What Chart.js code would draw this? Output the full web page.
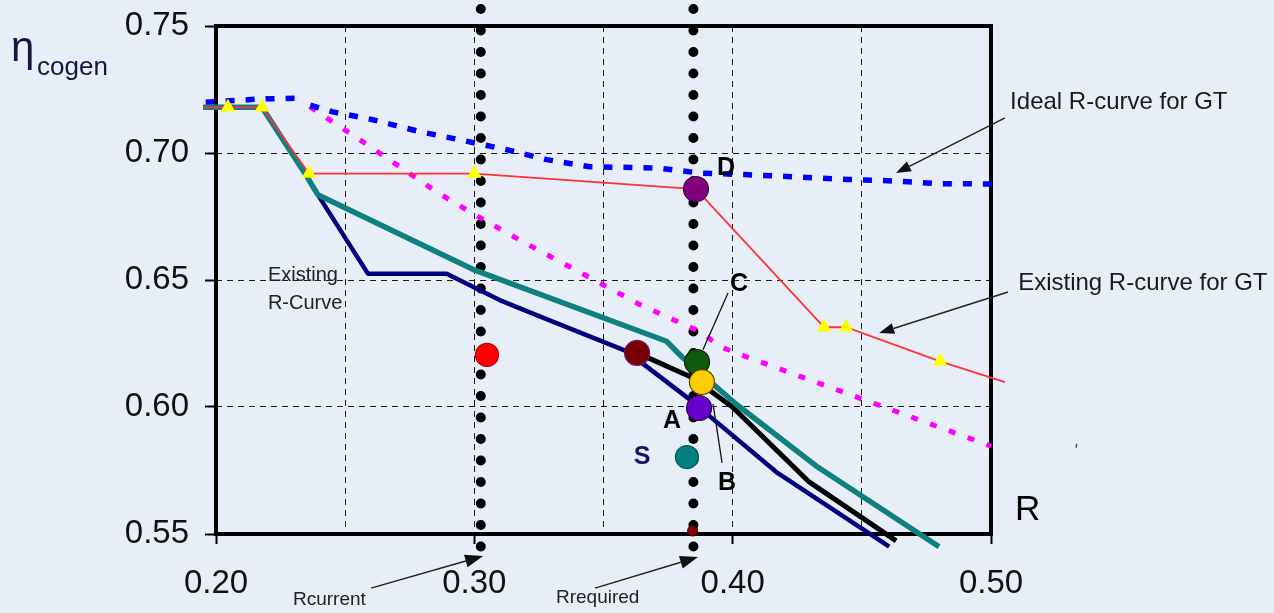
<!DOCTYPE html>
<html><head><meta charset="utf-8">
<script src="https://cdn.jsdelivr.net/npm/chart.js@4.4.1/dist/chart.umd.min.js"></script>
<style>html,body{margin:0;padding:0;background:#E8EEF8;}canvas{display:block}</style>
</head><body>
<canvas id="c" width="1274" height="613"></canvas>
<script>
// ---------- DATA ----------
const xTickValues = [0.20, 0.30, 0.40, 0.50];
const yTickValues = [0.55, 0.60, 0.65, 0.70, 0.75];

// Ideal R-curve for GT (blue dashed)
const idealX = [0.196, 0.218, 0.2315, 0.234, 0.2365, 0.2452, 0.2607, 0.2789, 0.2943, 0.3125, 0.328, 0.3446, 0.3707, 0.3874, 0.4048, 0.4450, 0.4620, 0.4800, 0.5040];
const idealY = [0.7200, 0.7213, 0.7216, null, 0.7188, 0.7162, 0.7131, 0.7084, 0.7052, 0.7013, 0.6974, 0.6946, 0.6941, 0.6921, 0.6915, 0.6896, 0.6890, 0.6879, 0.6878];

// magenta dotted curve
const magX = [0.2363, 0.2588, 0.2855, 0.3003, 0.3196, 0.3428, 0.3639, 0.3879, 0.3948, 0.4026, 0.5000, 0.5025];
const magY = [0.7182, 0.7031, 0.6846, 0.6756, 0.6646, 0.6520, 0.6404, 0.6294, 0.6239, 0.6208, 0.5846, 0.5838];

// Existing R-curve for GT (red, yellow triangles)
const existX = [0.195, 0.2046, 0.2178, 0.2360, 0.3000, 0.3858, 0.4354, 0.4439, 0.4803, 0.5054];
const existY = [0.7180, 0.7180, 0.7180, 0.6919, 0.6919, 0.6858, 0.6314, 0.6314, 0.6180, 0.6098];
const triX = [0.2046, 0.2178, 0.2360, 0.3000, 0.4354, 0.4439, 0.4803];
const triY = [0.7180, 0.7180, 0.6919, 0.6919, 0.6314, 0.6314, 0.6180];

// teal curve
const tealX = [0.195, 0.2178, 0.2352, 0.2394, 0.2994, 0.3744, 0.3805, 0.4014, 0.4323, 0.4799];
const tealY = [0.7180, 0.7180, 0.6907, 0.6836, 0.6542, 0.6259, 0.6196, 0.6011, 0.5768, 0.5450];

// navy "Existing R-Curve"
const navyX = [0.195, 0.2178, 0.2352, 0.2394, 0.2588, 0.2893, 0.3098, 0.3253, 0.3589, 0.3832, 0.4169, 0.4606];
const navyY = [0.7180, 0.7180, 0.6907, 0.6836, 0.6525, 0.6525, 0.6421, 0.6357, 0.6220, 0.6031, 0.5744, 0.5450];

// black curve
const blackX = [0.3630, 0.3832, 0.3921, 0.3999, 0.4296, 0.4633];
const blackY = [0.6213, 0.6121, 0.6058, 0.6000, 0.5705, 0.5473];

// operating points (circles)
const ptNames  = ['red', 'maroon', 'C', 'yellow', 'A', 'S', 'D', 'small'];
const ptX      = [0.3049, 0.3630, 0.3862, 0.3881, 0.3870, 0.3823, 0.3858, 0.3845];
const ptY      = [0.6205, 0.6213, 0.6177, 0.6098, 0.5996, 0.5803, 0.6858, 0.5512];
const ptFill   = ['#FF0000', '#7A0000', '#0E5A0E', '#FFCC00', '#6A00CC', '#008080', '#800080', '#8B0000'];
const ptBorder = ['#B00000', '#6A1A70', '#0A2A0A', '#5A4A00', '#2A0050', '#005555', '#4A004A', '#5A0000'];

// R lines (dotted verticals)
const rCurrent = 0.3025;
const rRequired = 0.3848;
const rLineY = [0.7567, 0.5406];

// point labels
const lblText = ['D', 'C', 'A', 'B', 'S'];
const lblX = [0.3974, 0.4025, 0.3765, 0.3978, 0.3649];
const lblY = [0.6941, 0.6484, 0.5945, 0.5701, 0.5803];
const lblColor = ['#000', '#000', '#000', '#000', '#141466'];

// ---------- helpers ----------
const pts = (xs, ys) => xs.map((x, i) => ({x: x, y: ys[i]}));
const BG = '#E8EEF8';
const FONT = "'Liberation Sans', Arial, Helvetica, sans-serif";
Chart.defaults.font.family = FONT;

function arrow(ctx, x1, y1, x2, y2, len, wid) {
  const a = Math.atan2(y2 - y1, x2 - x1);
  const bx = x2 - Math.cos(a) * len, by = y2 - Math.sin(a) * len;
  ctx.beginPath(); ctx.moveTo(x1, y1); ctx.lineTo(bx, by); ctx.stroke();
  ctx.beginPath();
  ctx.moveTo(x2, y2);
  ctx.lineTo(bx + Math.sin(a) * wid / 2, by - Math.cos(a) * wid / 2);
  ctx.lineTo(bx - Math.sin(a) * wid / 2, by + Math.cos(a) * wid / 2);
  ctx.closePath(); ctx.fill();
}

const deco = {
  id: 'deco',
  beforeDraw(chart) {
    const ctx = chart.ctx;
    ctx.save(); ctx.fillStyle = BG; ctx.fillRect(0, 0, chart.width, chart.height); ctx.restore();
  },
  beforeDatasetsDraw(chart) {
    const {ctx, chartArea: a} = chart;
    ctx.save();
    ctx.strokeStyle = '#000'; ctx.lineWidth = 4; ctx.setLineDash([]);
    ctx.strokeRect(a.left, a.top, a.right - a.left, a.bottom - a.top);
    ctx.restore();
  },
  afterDraw(chart) {
    const ctx = chart.ctx, sx = chart.scales.x, sy = chart.scales.y;
    const X = v => sx.getPixelForValue(v), Y = v => sy.getPixelForValue(v);
    ctx.save();
    // y-axis title
    ctx.fillStyle = '#16163E'; ctx.textBaseline = 'alphabetic'; ctx.textAlign = 'left';
    ctx.font = '42px ' + FONT; ctx.fillText('\u03B7', 11, 61);
    ctx.font = '26px ' + FONT; ctx.fillText('cogen', 37, 75);
    // point labels
    ctx.font = 'bold 25px ' + FONT; ctx.textAlign = 'center'; ctx.textBaseline = 'middle';
    lblText.forEach((t, i) => { ctx.fillStyle = lblColor[i]; ctx.fillText(t, X(lblX[i]), Y(lblY[i])); });
    // leader lines C and B
    ctx.strokeStyle = '#111'; ctx.lineWidth = 1.3;
    ctx.beginPath(); ctx.moveTo(X(0.3982), Y(0.6449)); ctx.lineTo(X(0.3885), Y(0.6225)); ctx.stroke();
    ctx.beginPath(); ctx.moveTo(X(0.3924), Y(0.6012)); ctx.lineTo(X(0.3959), Y(0.5780)); ctx.stroke();
    // annotations text
    ctx.fillStyle = '#1A1A1A'; ctx.textAlign = 'left'; ctx.textBaseline = 'middle';
    ctx.font = '24px ' + FONT;
    ctx.fillText('Ideal R-curve for GT', X(0.5074), Y(0.7201));
    ctx.fillText('Existing R-curve for GT', X(0.5105), Y(0.6488));
    ctx.font = '20px ' + FONT; ctx.fillStyle = '#222';
    ctx.fillText('Existing', X(0.2201), Y(0.6516));
    ctx.fillText('R-Curve', X(0.2201), Y(0.6406));
    ctx.font = '19px ' + FONT;
    ctx.fillText('Rcurrent', X(0.2298), Y(0.5240));
    ctx.fillText('Rrequired', X(0.3316), Y(0.5248));
    ctx.font = '35px ' + FONT; ctx.fillStyle = '#000';
    ctx.fillText('R', X(0.5093), Y(0.5594));
    // arrows
    ctx.strokeStyle = '#222'; ctx.fillStyle = '#111'; ctx.lineWidth = 1.5;
    arrow(ctx, X(0.5054), Y(0.7138), X(0.4632), Y(0.6921), 15, 11);
    arrow(ctx, X(0.5066), Y(0.6453), X(0.4567), Y(0.6291), 15, 11);
    arrow(ctx, X(0.2600), Y(0.5287), X(0.3034), Y(0.5413), 18, 13);
    arrow(ctx, X(0.3467), Y(0.5287), X(0.3866), Y(0.5409), 18, 13);
    // tiny stray mark
    ctx.lineWidth = 1.5; ctx.strokeStyle = '#444';
    ctx.beginPath(); ctx.moveTo(X(0.5332), Y(0.5855)); ctx.lineTo(X(0.5329), Y(0.5840)); ctx.stroke();
    ctx.restore();
  }
};

const lineDefaults = {showLine: true, pointRadius: 0, clip: false, fill: false, tension: 0};

new Chart(document.getElementById('c'), {
  type: 'scatter',
  data: {
    datasets: [
      {label: 'points', data: pts(ptX, ptY), showLine: false, clip: false, order: 0,
       pointRadius: ptNames.map(n => n === 'small' ? 5 : (n === 'red' || n === 'S' ? 11.5 : 12.5)),
       pointBackgroundColor: ptFill, pointBorderColor: ptBorder, pointBorderWidth: 1.2},
      {label: 'triangles', data: pts(triX, triY), showLine: false, clip: false, order: 1,
       pointStyle: 'triangle', pointRadius: 8.5, pointBackgroundColor: '#FFFF00', pointBorderWidth: 0},
      Object.assign({label: 'Existing R-curve for GT', data: pts(existX, existY), borderColor: '#FF3333', borderWidth: 1.8, order: 2}, lineDefaults),
      Object.assign({label: 'teal', data: pts(tealX, tealY), borderColor: '#0E8080', borderWidth: 5.5, borderJoinStyle: 'round', order: 3}, lineDefaults),
      Object.assign({label: 'black', data: pts(blackX, blackY), borderColor: '#000000', borderWidth: 5, borderJoinStyle: 'round', order: 3}, lineDefaults),
      Object.assign({label: 'Existing R-Curve', data: pts(navyX, navyY), borderColor: '#00007F', borderWidth: 4.5, borderJoinStyle: 'round', order: 4}, lineDefaults),
      Object.assign({label: 'Ideal R-curve for GT', data: pts(idealX, idealY), borderColor: '#0000FF', borderWidth: 5.5, borderDash: [9, 11], spanGaps: false, order: 4}, lineDefaults),
      Object.assign({label: 'magenta', data: pts(magX, magY), borderColor: '#FF00FF', borderWidth: 5, borderDash: [7, 13], order: 4}, lineDefaults),
      Object.assign({label: 'Rcurrent', data: pts([rCurrent, rCurrent], rLineY), borderColor: '#000', borderWidth: 10, borderDash: [0, 21.5], borderCapStyle: 'round', order: 6}, lineDefaults),
      Object.assign({label: 'Rrequired', data: pts([rRequired, rRequired], rLineY), borderColor: '#000', borderWidth: 10, borderDash: [0, 21.5], borderCapStyle: 'round', order: 6}, lineDefaults)
    ]
  },
  options: {
    responsive: false, animation: false,
    layout: {padding: {top: 26, right: 283, left: 0, bottom: 0}},
    plugins: {legend: {display: false}, tooltip: {enabled: false}},
    scales: {
      x: {
        type: 'linear', min: 0.2, max: 0.5,
        afterFit(s) { s.height = 79; s.paddingLeft = 0; s.paddingRight = 0; s.paddingTop = 0; s.paddingBottom = 0; },
        ticks: {stepSize: 0.05, autoSkip: false, maxRotation: 0, minRotation: 0, padding: 20, color: '#111', font: {size: 33},
          callback(v) { const r = Math.round(v * 100) / 100; return xTickValues.some(t => Math.abs(t - r) < 1e-6) ? r.toFixed(2) : ''; }},
        grid: {
          color: c => (c.tick && c.tick.value > 0.201 && c.tick.value < 0.499) ? '#1A1A1A' : 'rgba(0,0,0,0)',
          lineWidth: 1,
          tickColor: c => (c.tick && xTickValues.some(t => Math.abs(t - c.tick.value) < 1e-6)) ? '#000' : 'rgba(0,0,0,0)',
          tickLength: 10, tickWidth: 2
        },
        border: {display: false, dash: [6, 5]}
      },
      y: {
        type: 'linear', min: 0.55, max: 0.75,
        afterFit(s) { s.width = 216; s.paddingTop = 0; s.paddingBottom = 0; s.paddingLeft = 0; s.paddingRight = 0; },
        ticks: {stepSize: 0.05, padding: 16, color: '#111', font: {size: 33},
          callback(v) { return (Math.round(v * 100) / 100).toFixed(2); }},
        grid: {
          color: c => (c.tick && c.tick.value > 0.551 && c.tick.value < 0.749) ? '#1A1A1A' : 'rgba(0,0,0,0)',
          lineWidth: 1, tickColor: '#000', tickLength: 11, tickWidth: 2
        },
        border: {display: false, dash: [6, 5]}
      }
    }
  },
  plugins: [deco]
});
</script>
</body></html>
